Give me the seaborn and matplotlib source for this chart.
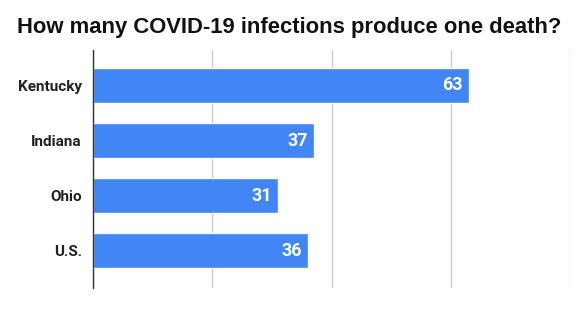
import matplotlib
matplotlib.use("Agg")
import matplotlib.pyplot as plt
import seaborn as sns
import pandas as pd

categories = ["Kentucky", "Indiana", "Ohio", "U.S."]
values = [63, 37, 31, 36]
title = "How many COVID-19 infections produce one death?"

df = pd.DataFrame({"place": categories, "infections": values})

sns.set_theme(style="white")
plt.rcParams['font.family'] = ['Liberation Sans', 'DejaVu Sans']

fig = plt.figure(figsize=(5.83, 3.22), dpi=100)
ax = fig.add_axes([93/583, 34/322, (570-93)/583, (288-50)/322])

sns.barplot(data=df, x="infections", y="place", orient="h", color="#4285F4",
            saturation=1, width=0.64, ax=ax, zorder=3)

ax.set_xlim(0, 80)
ax.set_ylim(3.68, -0.645)
ax.set_xticks([0, 20, 40, 60, 80])
ax.set_xticklabels([])
ax.grid(axis="x", color="#cccccc", linewidth=1, zorder=0)
ax.grid(axis="y", visible=False)
for s in ["top", "right", "bottom"]:
    ax.spines[s].set_visible(False)
ax.spines["left"].set_color("#333333")
ax.spines["left"].set_linewidth(1)
ax.spines["left"].set_zorder(4)
ax.set_xlabel("")
ax.set_ylabel("")
ax.tick_params(axis="y", length=0, pad=8)
ax.tick_params(axis="x", length=0)
for lab in ax.get_yticklabels():
    lab.set_fontweight("bold")
    lab.set_color("#222222")
    lab.set_fontfamily(["Roboto", "DejaVu Sans"])
    lab.set_fontsize(11)

for i, v in enumerate(values):
    ax.text(v - 1.0, i, str(v), ha="right", va="center", color="white",
            fontsize=13, fontweight="bold", family=["Roboto", "DejaVu Sans"],
            zorder=5)

fig.text(289/583, 1 - 28/322, title, ha="center", va="center",
         fontsize=15.8, fontweight="bold", color="#111111")

fig.savefig("out.png", dpi=100)
